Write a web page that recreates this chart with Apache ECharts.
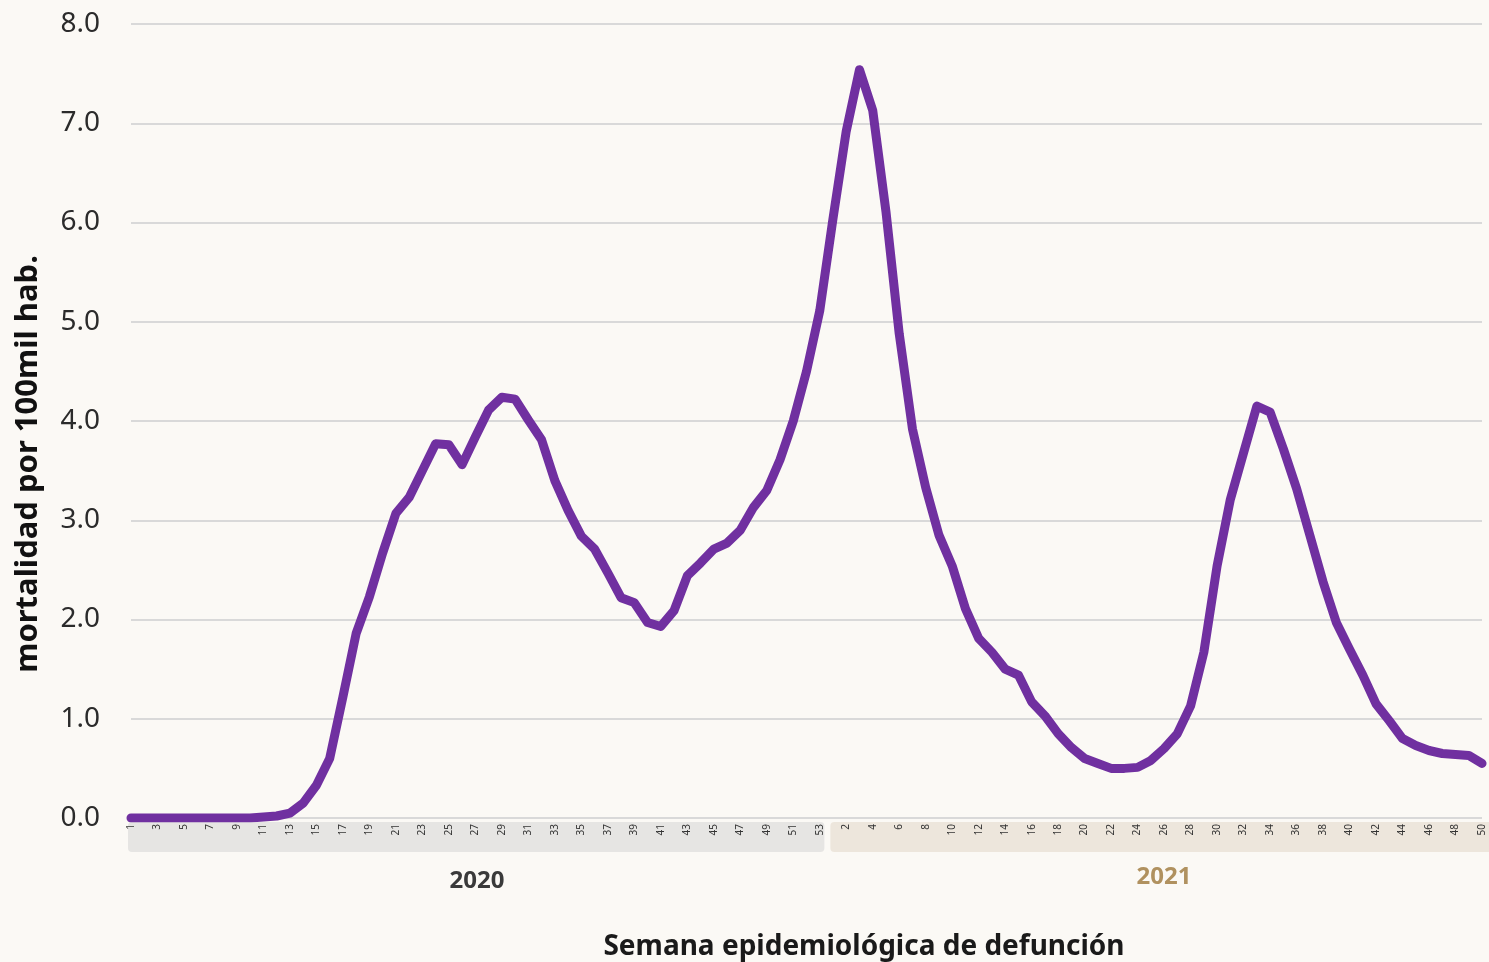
<!DOCTYPE html>
<html><head><meta charset="utf-8">
<script src="https://cdn.jsdelivr.net/npm/echarts@6/dist/echarts.min.js"></script>
<style>html,body{margin:0;padding:0;background:#fbf9f5;}#c{width:1489px;height:962px;}</style>
</head><body><div id="c"></div>
<script>
const weeks2020 = ["1","2","3","4","5","6","7","8","9","10","11","12","13","14","15","16","17","18","19","20","21","22","23","24","25","26","27","28","29","30","31","32","33","34","35","36","37","38","39","40","41","42","43","44","45","46","47","48","49","50","51","52","53"];
const weeks2021 = ["1","2","3","4","5","6","7","8","9","10","11","12","13","14","15","16","17","18","19","20","21","22","23","24","25","26","27","28","29","30","31","32","33","34","35","36","37","38","39","40","41","42","43","44","45","46","47","48","49","50"];
const values2020 = [0,0,0,0,0,0,0,0,0,0,0.01,0.02,0.05,0.15,0.33,0.6,1.22,1.86,2.23,2.67,3.07,3.23,3.5,3.77,3.76,3.56,3.84,4.11,4.24,4.22,4.01,3.81,3.4,3.1,2.84,2.71,2.47,2.22,2.17,1.97,1.93,2.09,2.44,2.57,2.71,2.77,2.9,3.13,3.3,3.61,4.0,4.5,5.11];
const values2021 = [6.04,6.92,7.54,7.13,6.11,4.88,3.92,3.33,2.85,2.54,2.11,1.81,1.67,1.5,1.44,1.17,1.03,0.85,0.71,0.6,0.55,0.5,0.5,0.51,0.58,0.7,0.85,1.13,1.67,2.54,3.21,3.68,4.15,4.09,3.72,3.32,2.85,2.38,1.97,1.7,1.44,1.15,0.98,0.8,0.73,0.68,0.65,0.64,0.63,0.55];
const yTicks = ["0.0","1.0","2.0","3.0","4.0","5.0","6.0","7.0","8.0"];
const yearLabels = ["2020","2021"];
const yTitle = "mortalidad por 100mil hab.";
const xTitle = "Semana epidemiológica de defunción";

const categories = weeks2020.map(w => "2020-" + w).concat(weeks2021.map(w => "2021-" + w));
const values = values2020.concat(values2021);
const FONT = "Noto Sans";

const chart = echarts.init(document.getElementById('c'), null, {renderer: 'canvas'});
const option = {
  backgroundColor: '#fbf9f5',
  animation: false,
  grid: {left: 131, right: 7, top: 24, bottom: 144, containLabel: false},
  xAxis: {
    type: 'category', data: categories, boundaryGap: false,
    axisLine: {show: false}, axisTick: {show: false},
    axisLabel: {
      interval: 1, rotate: 90, fontSize: 10, color: '#333', fontFamily: FONT, margin: 6,
      formatter: v => v.split('-')[1]
    },
    splitLine: {show: false}
  },
  yAxis: {
    type: 'value', min: 0, max: 8, interval: 1,
    axisLine: {show: false}, axisTick: {show: false},
    axisLabel: {fontSize: 28, color: '#2b2b2b', fontFamily: FONT, margin: 31,
      formatter: v => yTicks[Math.round(v)]},
    splitLine: {lineStyle: {color: '#d9d9d9', width: 2}}
  },
  series: [{
    type: 'line', data: values, showSymbol: false, symbol: 'none',
    lineStyle: {color: '#7030a0', width: 9, join: 'round', cap: 'round'},
    z: 5
  }]
};
chart.setOption(option);

const px = i => chart.convertToPixel({xAxisIndex: 0}, i);
const x0 = px(0), x52 = px(52), x53 = px(53);
const mid = (x52 + x53) / 2;
chart.setOption({
  graphic: [
    {type: 'rect', z: -1, shape: {x: x0 - 3, y: 822, width: mid - x0 + 1, height: 30, r: 4}, style: {fill: '#e6e5e3'}},
    {type: 'rect', z: -1, shape: {x: mid + 4, y: 822, width: 1489 - mid, height: 30, r: 4}, style: {fill: '#ede6dc'}},
    {type: 'text', x: 477, y: 881, style: {text: yearLabels[0], font: 'bold 24px "Noto Sans"', fill: '#3a3a3a', align: 'center', verticalAlign: 'middle'}},
    {type: 'text', x: 1164, y: 877, style: {text: yearLabels[1], font: 'bold 24px "Noto Sans"', fill: '#b0915f', align: 'center', verticalAlign: 'middle'}},
    {type: 'text', x: 28, y: 464, rotation: Math.PI / 2, style: {text: yTitle, font: 'bold 31px "Noto Sans"', fill: '#111', align: 'center', verticalAlign: 'middle'}},
    {type: 'text', x: 864, y: 947, style: {text: xTitle, font: 'bold 28px "Noto Sans"', fill: '#1a1a1a', align: 'center', verticalAlign: 'middle'}}
  ]
});
</script></body></html>
